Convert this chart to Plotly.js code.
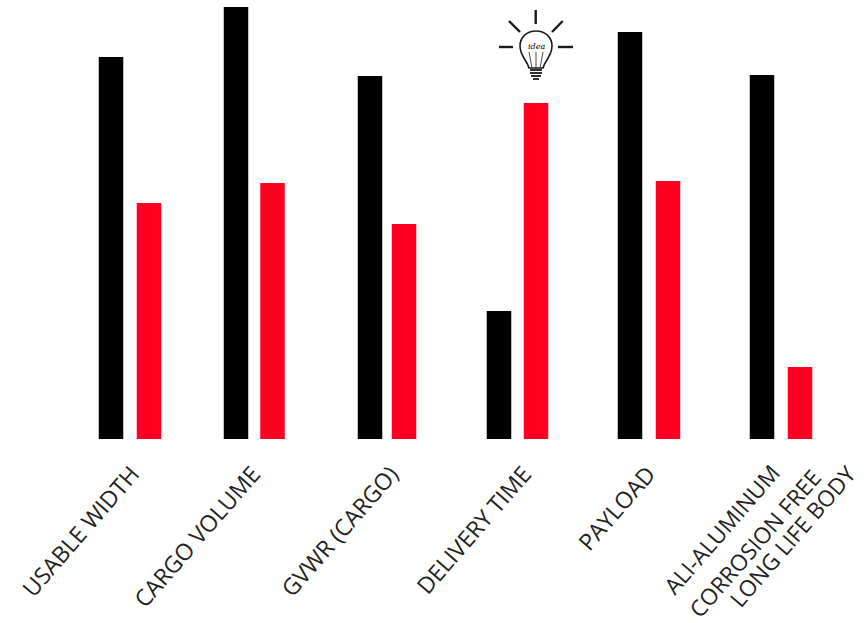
<!DOCTYPE html>
<html><head><meta charset="utf-8">
<script src="https://cdn.plot.ly/plotly-3.0.1.min.js"></script>
<style>html,body{margin:0;padding:0;background:#fff}</style></head>
<body><div id="chart" style="width:864px;height:623px"></div>
<script>
const categories = ["USABLE WIDTH","CARGO VOLUME","GVWR (CARGO)","DELIVERY TIME","PAYLOAD"];
const lastCategoryLines = ["ALI-ALUMINUM","CORROSION FREE","LONG LIFE BODY"];
const blackValues = [382,432,363,128,407,364];
const redValues = [236,256,215,336,258,72];
const blackPos = [111,236,370,499,630,762];
const redPos = [149,272.5,404,536,668,800];
const labelPos = [132,253,391,524,648];
const lastLineRight = [788,829,864];
const lastLineTop = [457,462,458];
const H = 439;
const W = 864;
const Y = p => H - p;
const line = (x0,y0,x1,y1,w=2.4) => ({type:'line',xref:'x',yref:'y',x0,y0:Y(y0),x1,y1:Y(y1),line:{color:'#1a1a1a',width:w}});
const path = (pts,w=1.6) => ({type:'path',xref:'x',yref:'y',path:pts.replace(/(-?[\d.]+),(-?[\d.]+)/g,(m,a,b)=>a+','+Y(+b)),line:{color:'#1a1a1a',width:w}});
const bulbShapes = [
  line(535.7,10,535.7,24), line(509,21,520,32), line(562.7,21,552,32), line(499,47,513,47), line(558,47,573,47),
  path('M 529,68 C 527,60 520,56 520,46 C 520,37 527,31 536,31 C 545,31 552,37 552,46 C 552,56 545,60 543,68 Z'),
  path('M 532,68 L 529,52',0.8), path('M 536,68 L 536,52',0.8), path('M 540,68 L 543,52',0.8),
  line(530,70,542,70,1.8), line(530,73,542,73,1.8), line(531,76,541,76,1.8), line(533,79,539,79,1.8)
];
const labelFont = {family:'"Open Sans",sans-serif',size:23,color:'#222'};
const lastFont = {family:'"Open Sans",sans-serif',size:22.5,color:'#222'};
const barTrace = (x,y,color) => ({type:'bar',x,y,width:24.5,marker:{color,line:{width:0}},hoverinfo:'y',showlegend:false});
const lastLabels = lastCategoryLines.map((text,i)=>({xref:'paper',yref:'paper',x:lastLineRight[i]/W,y:Y(lastLineTop[i])/H,yanchor:'top',xanchor:'right',text,textangle:-49,showarrow:false,borderpad:0,font:lastFont}));
const ideaLabel = {xref:'x',yref:'y',x:536,y:Y(46),text:'<i>idea</i>',showarrow:false,font:{family:'"DejaVu Serif",serif',size:8,color:'#000000'}};
Plotly.newPlot('chart',[barTrace(blackPos,blackValues,'#000000'),barTrace(redPos,redValues,'#ff0022')],{
  width:W,height:623,margin:{l:0,r:0,t:0,b:184,pad:0},paper_bgcolor:'#fff',plot_bgcolor:'#fff',showlegend:false,
  xaxis:{range:[0,W],tickmode:'array',tickvals:labelPos,ticktext:categories,tickangle:-49,ticks:'',ticklabelstandoff:16,showgrid:false,zeroline:false,showline:false,automargin:false,tickfont:labelFont},
  yaxis:{range:[0,H],visible:false,showgrid:false,zeroline:false},
  shapes:bulbShapes,
  annotations:[ideaLabel].concat(lastLabels)
},{displayModeBar:false,staticPlot:true});
</script></body></html>
